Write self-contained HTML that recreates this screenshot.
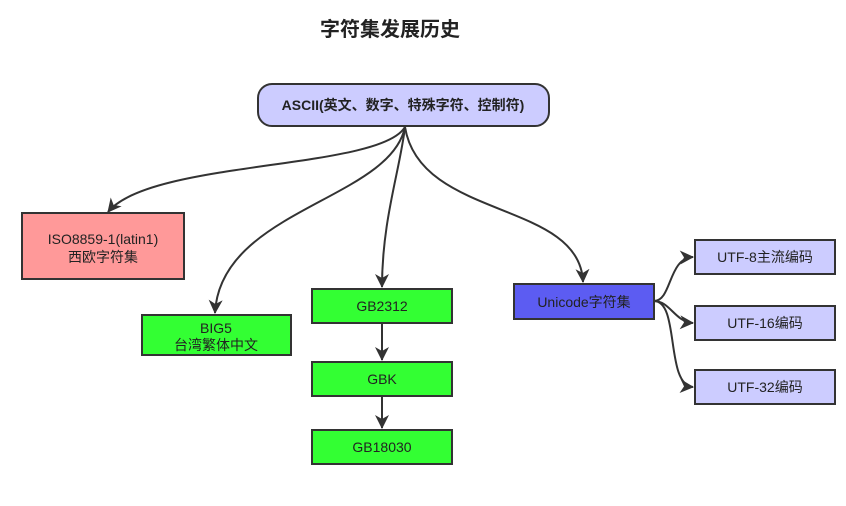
<!DOCTYPE html>
<html><head><meta charset="utf-8"><style>
body{margin:0;background:#fff;}
svg text{font-family:"Liberation Sans","Noto Sans CJK SC",sans-serif;fill:#222;}
</style></head><body>
<svg width="846" height="501" viewBox="0 0 846 501" xmlns="http://www.w3.org/2000/svg">
<defs><marker id="a" markerWidth="14" markerHeight="14" refX="13" refY="7" orient="auto" markerUnits="userSpaceOnUse"><path d="M0,0 L14,7 L0,14 L4,7 z" fill="#333"/></marker></defs>
<text x="390" y="36" font-size="20" font-weight="bold" text-anchor="middle">字符集发展历史</text>
<g fill="none" stroke="#333" stroke-width="2" marker-end="url(#a)">
<path d="M405,127 C380,170 150,160 108,212"/>
<path d="M405,127 C390,200 220,210 215,313"/>
<path d="M405,127 C400,170 382,220 382,287"/>
<path d="M405,127 C420,220 580,200 583,282"/>
<path d="M382,323 L382,360"/>
<path d="M382,396 L382,428"/>
<path d="M654,301 C672,301 668,258 693,257"/>
<path d="M654,301 C670,301 675,322 693,323"/>
<path d="M654,301 C680,301 665,385 693,387"/>
</g>
<g stroke="#333" stroke-width="2">
<rect x="258" y="84" width="291" height="42" rx="14" fill="#ccccff"/>
<rect x="22" y="213" width="162" height="66" fill="#ff9999"/>
<rect x="142" y="315" width="149" height="40" fill="#33ff33"/>
<rect x="312" y="289" width="140" height="34" fill="#33ff33"/>
<rect x="312" y="362" width="140" height="34" fill="#33ff33"/>
<rect x="312" y="430" width="140" height="34" fill="#33ff33"/>
<rect x="514" y="284" width="140" height="35" fill="#5c5cf2"/>
<rect x="695" y="240" width="140" height="34" fill="#ccccff"/>
<rect x="695" y="306" width="140" height="34" fill="#ccccff"/>
<rect x="695" y="370" width="140" height="34" fill="#ccccff"/>
</g>
<g font-size="14" text-anchor="middle">
<text x="403" y="110" font-weight="bold">ASCII(英文、数字、特殊字符、控制符)</text>
<text x="103" y="244">ISO8859-1(latin1)</text>
<text x="103" y="262">西欧字符集</text>
<text x="216" y="333">BIG5</text>
<text x="216" y="350">台湾繁体中文</text>
<text x="382" y="311">GB2312</text>
<text x="382" y="384">GBK</text>
<text x="382" y="452">GB18030</text>
<text x="584" y="307">Unicode字符集</text>
<text x="765" y="262">UTF-8主流编码</text>
<text x="765" y="328">UTF-16编码</text>
<text x="765" y="392">UTF-32编码</text>
</g>
</svg>
</body></html>
